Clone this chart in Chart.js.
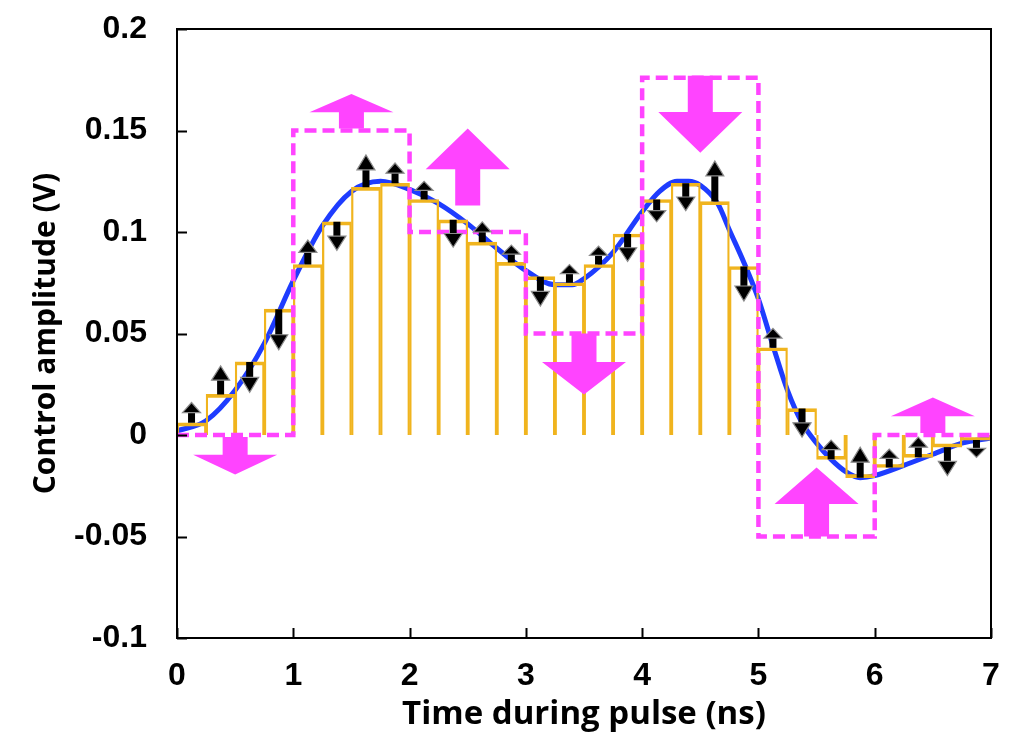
<!DOCTYPE html>
<html><head><meta charset="utf-8">
<script src="https://cdn.jsdelivr.net/npm/chart.js@4.4.1/dist/chart.umd.min.js"></script>
<style>html,body{margin:0;padding:0;background:#fff}</style>
</head><body>
<canvas id="c" width="1020" height="734"></canvas>
<script>
// ---- tick values ----
const xTicks = [0, 1, 2, 3, 4, 5, 6, 7];
const yTicks = [-0.1, -0.05, 0, 0.05, 0.1, 0.15, 0.2];

// ---- smooth control pulse (blue) ----
const curveX = [0, 0.25, 0.5, 0.75, 1.0, 1.25, 1.5, 1.75, 2.0, 2.25, 2.5, 2.75, 3.0, 3.25, 3.4, 3.5, 3.75, 4.0, 4.15, 4.3, 4.4, 4.5, 4.65, 4.75, 4.875, 5.0, 5.125, 5.25, 5.375, 5.5, 5.625, 5.75, 5.875, 6.0, 6.25, 6.5, 6.75, 7.0];
const curveY = [0.002, 0.007, 0.022, 0.045, 0.076, 0.103, 0.120, 0.125, 0.121, 0.114, 0.104, 0.092, 0.081, 0.074, 0.074, 0.077, 0.090, 0.110, 0.120, 0.125, 0.125, 0.123, 0.114, 0.101, 0.085, 0.067, 0.044, 0.022, 0.006, -0.004, -0.012, -0.018, -0.021, -0.020, -0.015, -0.0095, -0.004, -0.0015];

// ---- fine piecewise-constant steps (orange), 0.25 ns each ----
const stepCenters = [0.125, 0.375, 0.625, 0.875, 1.125, 1.375, 1.625, 1.875, 2.125, 2.375, 2.625, 2.875, 3.125, 3.375, 3.625, 3.875, 4.125, 4.375, 4.625, 4.875, 5.125, 5.375, 5.625, 5.875, 6.125, 6.375, 6.625, 6.875];
const stepValues = [0.006, 0.020, 0.036, 0.062, 0.084, 0.105, 0.122, 0.124, 0.116, 0.106, 0.095, 0.085, 0.078, 0.075, 0.084, 0.099, 0.116, 0.124, 0.115, 0.083, 0.043, 0.013, -0.012, -0.021, -0.016, -0.011, -0.006, -0.0025];
// gradient arrows on each fine step (black)
const stepArrows = [0.010, 0.014, -0.015, -0.020, 0.012, -0.014, 0.016, 0.010, 0.009, -0.0135, 0.010, 0.0085, -0.0145, 0.009, 0.009, -0.0135, -0.011, -0.0135, 0.020, -0.017, 0.0095, -0.014, 0.0095, 0.015, 0.009, 0.010, -0.014, -0.0085];

// ---- coarse 1 ns segments (magenta dashed) ----
const segStarts = [0, 1, 2, 3, 4, 5, 6, 7];
const segValues = [0, 0.15, 0.10, 0.05, 0.176, -0.05, 0, 0];
// coarse gradient arrows (magenta)
const bigArrowX = [0.5, 1.5, 2.5, 3.5, 4.5, 5.5, 6.5];
const bigArrowFrom = [-0.001, 0.151, 0.113, 0.050, 0.177, -0.050, 0.001];
const bigArrowTo = [-0.0195, 0.168, 0.151, 0.020, 0.139, -0.016, 0.0185];

const BLUE = '#1e3cff', ORANGE = '#f0b41e', MAGENTA = '#ff44ff';
const TICKFONT = {family: '"Liberation Sans", Arial, sans-serif', size: 32, weight: 'bold'};
const XTITLEFONT = {family: '"Open Sans", sans-serif', size: 33, weight: 'bold'};
const YTITLEFONT = {family: '"Open Sans", sans-serif', size: 30, weight: 'bold'};

function arrowPath(ctx, x, y0, y1, headLen, headHalf, shaftHalf) {
  const dir = y1 < y0 ? -1 : 1;
  const yh = y1 - dir * headLen;
  ctx.beginPath();
  ctx.moveTo(x - shaftHalf, y0);
  ctx.lineTo(x - shaftHalf, yh);
  ctx.lineTo(x - headHalf, yh);
  ctx.lineTo(x, y1);
  ctx.lineTo(x + headHalf, yh);
  ctx.lineTo(x + shaftHalf, yh);
  ctx.lineTo(x + shaftHalf, y0);
  ctx.closePath();
  return yh;
}

const arrowsPlugin = {
  id: 'arrows',
  afterDatasetsDraw(chart) {
    const {ctx, scales: {x, y}} = chart;
    ctx.save();
    // big magenta arrows
    ctx.fillStyle = MAGENTA;
    bigArrowX.forEach((bx, i) => {
      const px = x.getPixelForValue(bx);
      const y0 = y.getPixelForValue(bigArrowFrom[i]);
      const y1 = y.getPixelForValue(bigArrowTo[i]);
      const len = Math.abs(y1 - y0);
      arrowPath(ctx, px, y0, y1, len * 0.53, 42, 12.5);
      ctx.fill();
    });
    // small black arrows
    stepCenters.forEach((sx, i) => {
      const px = x.getPixelForValue(sx);
      const y0 = y.getPixelForValue(stepValues[i]);
      const y1 = y.getPixelForValue(stepValues[i] + stepArrows[i]);
      const len = Math.abs(y1 - y0);
      const hl = Math.max(9, Math.min(15, len * 0.5));
      const yh = arrowPath(ctx, px, y0, y1, hl, 9, 3.5);
      ctx.fillStyle = '#000';
      ctx.fill();
      ctx.beginPath();
      ctx.moveTo(px - 9, yh);
      ctx.lineTo(px, y1);
      ctx.lineTo(px + 9, yh);
      ctx.closePath();
      ctx.strokeStyle = '#8c8c8c';
      ctx.lineWidth = 1.2;
      ctx.stroke();
    });
    ctx.restore();
  },
  afterDraw(chart) {
    const {ctx, chartArea: a, scales: {x, y}} = chart;
    ctx.save();
    ctx.strokeStyle = '#000';
    ctx.lineWidth = 2;
    ctx.beginPath();
    xTicks.forEach(v => {
      const px = Math.round(x.getPixelForValue(v)) + 0.5;
      ctx.moveTo(px, a.bottom); ctx.lineTo(px, a.bottom - 10);
    });
    yTicks.forEach(v => {
      const py = Math.round(y.getPixelForValue(v)) + 0.5;
      ctx.moveTo(a.left, py); ctx.lineTo(a.left + 10, py);
    });
    ctx.stroke();
    ctx.strokeRect(a.left, a.top, a.right - a.left, a.bottom - a.top);
    ctx.restore();
  }
};

new Chart(document.getElementById('c'), {
  type: 'bar',
  data: {
    datasets: [
      {
        type: 'line', label: 'segments', order: 1,
        data: segStarts.map((s, i) => ({x: s, y: segValues[i]})),
        stepped: 'before', borderColor: MAGENTA, borderWidth: 4.5, borderDash: [12, 6],
        pointRadius: 0, fill: false
      },
      {
        type: 'bar', label: 'steps', order: 2,
        data: stepCenters.map((s, i) => ({x: s, y: stepValues[i]})),
        backgroundColor: 'rgba(0,0,0,0)', borderColor: ORANGE,
        borderWidth: {left: 1.6, right: 1.6, top: 3, bottom: 3},
        borderSkipped: 'start', barPercentage: 1, categoryPercentage: 1
      },
      {
        type: 'line', label: 'pulse', order: 3,
        data: curveX.map((s, i) => ({x: s, y: curveY[i]})),
        borderColor: BLUE, borderWidth: 5, cubicInterpolationMode: 'monotone',
        pointRadius: 0, fill: false
      }
    ]
  },
  options: {
    responsive: false, animation: false,
    layout: {padding: {top: 29, right: 29, left: 0, bottom: 0}},
    plugins: {legend: {display: false}, tooltip: {enabled: false}},
    scales: {
      x: {
        type: 'linear', min: 0, max: 7, offset: false,
        grid: {display: false, offset: false}, border: {display: false},
        afterBuildTicks: s => { s.ticks = xTicks.map(v => ({value: v})); },
        afterFit: s => { s.height = 96; s.paddingLeft = 0; s.paddingRight = 0; },
        ticks: {font: TICKFONT, color: '#000', padding: 11, maxRotation: 0, autoSkip: false,
                callback: v => String(v)},
        title: {display: true, text: 'Time during pulse (ns)', font: XTITLEFONT, color: '#000',
                padding: {top: 0, bottom: 0}}
      },
      y: {
        type: 'linear', min: -0.1, max: 0.2,
        grid: {display: false}, border: {display: false},
        afterBuildTicks: s => { s.ticks = yTicks.map(v => ({value: v})); },
        afterFit: s => { s.width = 177; s.paddingTop = 0; s.paddingBottom = 0; },
        ticks: {font: TICKFONT, color: '#000', padding: 22, autoSkip: false,
                callback: v => String(v)},
        title: {display: true, text: 'Control amplitude (V)', font: YTITLEFONT, color: '#000',
                padding: {top: 28, bottom: 0}}
      }
    }
  },
  plugins: [arrowsPlugin]
});
</script>
</body></html>
